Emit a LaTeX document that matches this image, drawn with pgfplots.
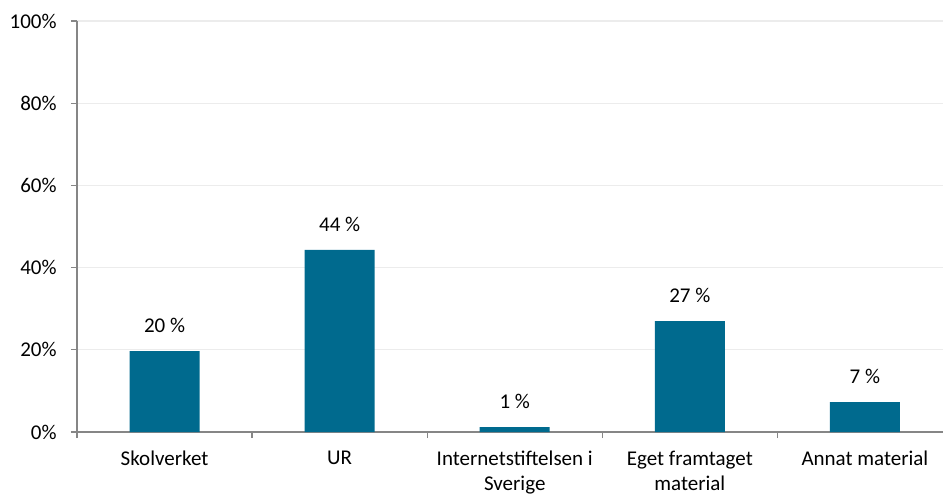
\documentclass[border=0pt]{standalone}
\usepackage{fontspec}
\setmainfont{Carlito}
\usepackage{pgfplots}
\pgfplotsset{compat=1.18}
\definecolor{barc}{RGB}{0,106,142}
\definecolor{axgray}{RGB}{134,134,134}
\definecolor{gridgray}{RGB}{236,236,236}
\begin{document}
\fontsize{10.5}{12.6}\selectfont
\begin{tikzpicture}
\begin{axis}[
 name=ax,
 scale only axis, width=433pt, height=205.5pt,
 xmin=-0.5, xmax=4.446, ymin=0, ymax=100,
 axis x line*=bottom, axis y line*=left,
 axis line style={draw=axgray, line width=0.6pt, -},
 ytick={0,20,...,100},
 yticklabel={\pgfmathprintnumber{\tick}\%},
 ymajorgrids, grid style={draw=gridgray, line width=0.6pt},
 tick align=outside, major tick length=3pt,
 tick style={draw=axgray, line width=0.6pt},
 xtick={-0.5,0.5,1.5,2.5,3.5}, xticklabels={},
 extra x ticks={0,1,2,3,4},
 extra x tick labels={Skolverket, UR, {Internetstiftelsen i\\Sverige}, {Eget framtaget\\material}, Annat material},
 extra x tick style={major tick length=0pt, grid=none},
 xticklabel style={align=center, yshift=-6pt, font=\fontsize{10.5}{12.3}\selectfont},
 yticklabel style={xshift=-3.5pt, font=\fontsize{10.5}{12.6}\selectfont},
 /pgf/number format/assume math mode=true,
 ybar, bar width=35pt,
 point meta=explicit symbolic,
 nodes near coords={\pgfplotspointmeta~\%},
 nodes near coords style={anchor=south, yshift=5.5pt, font=\fontsize{10.5}{12.6}\selectfont},
]
\addplot[fill=barc, draw=none] coordinates {(0,19.7) [20] (1,44.3) [44] (2,1.2) [1] (3,27.0) [27] (4,7.3) [7]};
\end{axis}
\pgfresetboundingbox
\path[use as bounding box] ([xshift=-38.5pt,yshift=-31pt]ax.south west) rectangle ([yshift=10.5pt]ax.north east);
\end{tikzpicture}
\end{document}
